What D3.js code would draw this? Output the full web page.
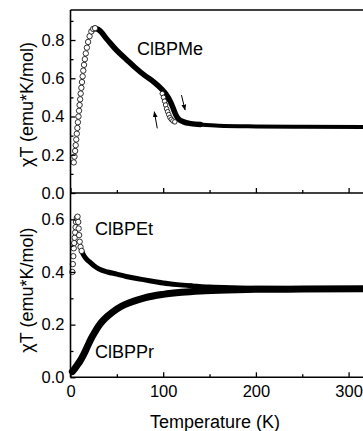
<!DOCTYPE html>
<html>
<head>
<meta charset="utf-8">
<script src="https://cdn.jsdelivr.net/npm/d3@7"></script>
<style>
  body { margin: 0; background: #fff; }
  svg { display: block; }
  text { font-family: "Liberation Sans", Arial, sans-serif; fill: #000; }
</style>
</head>
<body>
<div id="chart"></div>
<script>
// ── Data ────────────────────────────────────────────────────────────────────
// ClBPMe, low-T rising branch (open circles)
const meRiseT = [3.5, 4.3, 5, 5.6, 6.2, 6.8, 7.4, 8, 8.6, 9.2, 9.8, 10.4, 11, 11.7, 12.4, 13.1, 13.8, 14.6, 15.5, 16.5, 17.7, 19, 20.6, 22.5, 24.5, 26.5]
const meRiseV = [0.16, 0.19, 0.22, 0.25, 0.28, 0.31, 0.34, 0.37, 0.40, 0.43, 0.46, 0.49, 0.52, 0.55, 0.58, 0.61, 0.64, 0.67, 0.70, 0.73, 0.76, 0.79, 0.82, 0.845, 0.858, 0.862]
// ClBPMe, dense branch from the maximum upward
const meMainT = [26, 30, 40, 50, 60, 70, 80, 90, 98, 104, 108, 111, 114, 117, 122, 130, 140, 160, 200, 250, 320]
const meMainV = [0.860, 0.855, 0.80, 0.745, 0.70, 0.655, 0.615, 0.58, 0.545, 0.51, 0.475, 0.44, 0.405, 0.385, 0.372, 0.363, 0.358, 0.352, 0.348, 0.346, 0.345]
// ClBPMe, other branch of the hysteresis loop (open circles)
const meLoopT = [99, 100.3, 101.5, 102.6, 103.7, 104.8, 106, 107.3, 108.8, 110.5, 112.5]
const meLoopV = [0.52, 0.50, 0.48, 0.46, 0.44, 0.425, 0.41, 0.395, 0.385, 0.377, 0.372]
// ClBPEt, low-T cluster (open circles)
const etLowT = [2, 2.5, 3, 3.5, 4, 4.5, 5, 5.5, 6, 6.8, 7.6, 8.3, 8.8, 9.3, 9.9, 10.8, 12]
const etLowV = [0.40, 0.43, 0.46, 0.49, 0.51, 0.53, 0.55, 0.57, 0.59, 0.605, 0.61, 0.59, 0.565, 0.54, 0.515, 0.495, 0.48]
// ClBPEt, dense part
const etMainT = [12, 14, 17, 20, 25, 30, 40, 50, 60, 70, 80, 90, 100, 115, 130, 150, 175, 200, 250, 320]
const etMainV = [0.48, 0.465, 0.45, 0.44, 0.425, 0.413, 0.40, 0.392, 0.383, 0.376, 0.370, 0.364, 0.358, 0.352, 0.348, 0.344, 0.341, 0.339, 0.338, 0.338]
// ClBPPr
const prT = [2, 4, 7, 10, 14, 18, 22, 26, 30, 35, 40, 47, 55, 65, 80, 100, 120, 140, 170, 200, 250, 320]
const prV = [0.022, 0.03, 0.045, 0.06, 0.085, 0.115, 0.145, 0.17, 0.193, 0.215, 0.232, 0.252, 0.27, 0.285, 0.302, 0.315, 0.323, 0.328, 0.332, 0.334, 0.335, 0.336]

const xTicks = [0, 100, 200, 300]
const xMinor = [50, 150, 250]
const yTopTicks = [0, 0.2, 0.4, 0.6, 0.8]
const yTopMinor = [0.1, 0.3, 0.5, 0.7, 0.9]
const yBotTicks = [0, 0.2, 0.4, 0.6]
const yBotMinor = [0.1, 0.3, 0.5]

// hysteresis arrows, [T0, v0, T1, v1] (tail → head)
const arrows = [[119.7, 0.512, 123.6, 0.434], [93.6, 0.338, 90.4, 0.425]]

const labels = [
  { text: 'ClBPMe', t: 71.7, v: 0.72, panel: 'top' },
  { text: 'ClBPEt', t: 26.4, v: 0.54, panel: 'bot' },
  { text: 'ClBPPr', t: 26.4, v: 0.073, panel: 'bot' },
]

// ── Layout ─────────────────────────────────────────────────────────────────
const W = 363, H = 431
const X0 = 70.5, YTOP = 10, YMID = 193, YBOT = 377.3

const x = d3.scaleLinear().domain([0, 320]).range([X0, X0 + 320 * 0.927])
const yTop = d3.scaleLinear().domain([0, 0.957]).range([YMID, YTOP])
const yBot = d3.scaleLinear().domain([0, 0.7]).range([YBOT, YMID])

const svg = d3.select('#chart').append('svg').attr('width', W).attr('height', H)

const zip = (ts, vs) => ts.map((t, i) => [t, vs[i]])

// dense data drawn as a thick band; thinner where the points get sparse (high T)
function drawLine(y, ts, vs, width, split, widthHigh) {
  const line = d3.line().x(d => x(d[0])).y(d => y(d[1])).curve(d3.curveMonotoneX)
  const pts = zip(ts, vs)
  const parts = split == null ? [[pts, width]] :
    [[pts.filter(d => d[0] <= split), width], [pts.filter(d => d[0] >= split), widthHigh]]
  parts.forEach(([p, w]) => {
    svg.append('path')
      .attr('d', line(p))
      .attr('fill', 'none')
      .attr('stroke', '#000')
      .attr('stroke-width', w)
      .attr('stroke-linecap', 'round')
      .attr('stroke-linejoin', 'round')
  })
}

function drawCircles(y, ts, vs, r = 2.7) {
  svg.append('g').selectAll('circle')
    .data(zip(ts, vs))
    .join('circle')
    .attr('cx', d => x(d[0]))
    .attr('cy', d => y(d[1]))
    .attr('r', r)
    .attr('fill', '#fff')
    .attr('stroke', '#000')
    .attr('stroke-width', 0.8)
}

// ── Series ─────────────────────────────────────────────────────────────────
drawLine(yTop, meMainT, meMainV, 5.5, 140, 4)
drawCircles(yTop, meLoopT, meLoopV, 2.3)
drawCircles(yTop, meRiseT, meRiseV)

drawLine(yBot, prT, prV, 7)
drawLine(yBot, etMainT, etMainV, 5, 130, 4.5)
drawCircles(yBot, etLowT, etLowV)

// ── Arrows ─────────────────────────────────────────────────────────────────
svg.append('defs').append('marker')
  .attr('id', 'head').attr('viewBox', '0 0 10 10')
  .attr('refX', 9).attr('refY', 5)
  .attr('markerWidth', 6).attr('markerHeight', 6)
  .attr('markerUnits', 'userSpaceOnUse')
  .attr('orient', 'auto')
  .append('path').attr('d', 'M0,1 L10,5 L0,9 Z').attr('fill', '#000')

arrows.forEach(([t0, v0, t1, v1]) => {
  svg.append('line')
    .attr('x1', x(t0)).attr('y1', yTop(v0))
    .attr('x2', x(t1)).attr('y2', yTop(v1))
    .attr('stroke', '#000').attr('stroke-width', 1)
    .attr('marker-end', 'url(#head)')
})

// ── Axes ───────────────────────────────────────────────────────────────────
const FS = '16.5px'

function yAxis(scale, ticks, minor) {
  const g = svg.append('g').attr('transform', `translate(${X0},0)`)
  g.call(d3.axisLeft(scale).tickValues(ticks).tickFormat(d3.format('.1f')).tickSize(-5).tickPadding(6))
  g.selectAll('text').style('font-size', FS)
  g.select('.domain').remove()
  g.selectAll('.tick line').attr('stroke-width', 1.3)
  svg.append('g').attr('transform', `translate(${X0},0)`)
    .call(d3.axisLeft(scale).tickValues(minor).tickFormat('').tickSize(-3))
    .call(s => s.select('.domain').remove())
    .selectAll('.tick line').attr('stroke-width', 1.3)
}

function xAxis(yPos, withLabels) {
  const g = svg.append('g').attr('transform', `translate(0,${yPos})`)
  g.call(d3.axisBottom(x).tickValues(xTicks).tickFormat(withLabels ? d3.format('d') : '').tickSize(-5).tickPadding(7.5))
  g.selectAll('text').style('font-size', FS)
  g.select('.domain').remove()
  g.selectAll('.tick line').attr('stroke-width', 1.3)
  svg.append('g').attr('transform', `translate(0,${yPos})`)
    .call(d3.axisBottom(x).tickValues(xMinor).tickFormat('').tickSize(-3))
    .call(s => s.select('.domain').remove())
    .selectAll('.tick line').attr('stroke-width', 1.3)
}

yAxis(yTop, yTopTicks, yTopMinor)
yAxis(yBot, yBotTicks, yBotMinor)
xAxis(YMID, false)
xAxis(YBOT, true)

// frame lines
const frame = [[X0, YTOP, W + 5, YTOP], [X0, YTOP, X0, YBOT], [X0, YMID, W + 5, YMID], [X0, YBOT, W + 5, YBOT]]
frame.forEach(([x1, y1, x2, y2]) => {
  svg.append('line').attr('x1', x1).attr('y1', y1).attr('x2', x2).attr('y2', y2)
    .attr('stroke', '#000').attr('stroke-width', 1.6)
})

// ── Text ───────────────────────────────────────────────────────────────────
labels.forEach(l => {
  const y = l.panel === 'top' ? yTop : yBot
  svg.append('text').attr('x', x(l.t)).attr('y', y(l.v)).text(l.text).style('font-size', '18px')
})

svg.append('text')
  .attr('x', 215).attr('y', 428)
  .attr('text-anchor', 'middle')
  .style('font-size', '18px')
  .text('Temperature (K)')

;[(YTOP + YMID) / 2 + 3, (YMID + YBOT) / 2 + 5].forEach(cy => {
  svg.append('text')
    .attr('transform', `translate(33,${cy}) rotate(-90)`)
    .attr('text-anchor', 'middle')
    .style('font-size', '18px')
    .text('χT (emu*K/mol)')
})
</script>
</body>
</html>
